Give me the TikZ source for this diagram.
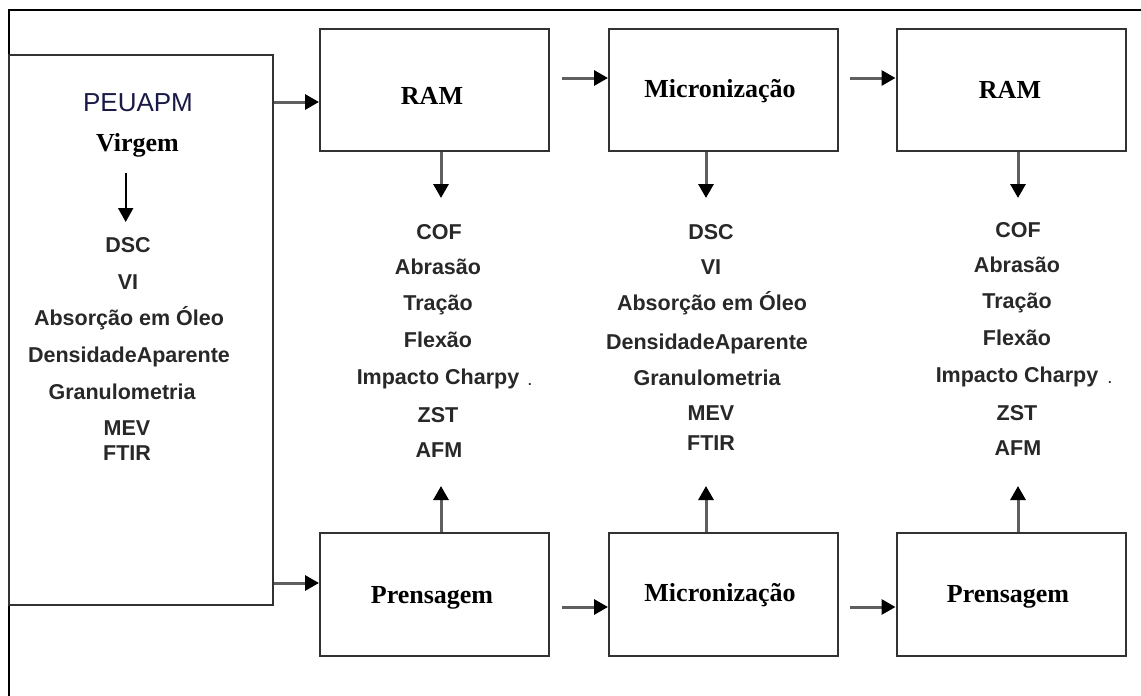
\documentclass[tikz,border=0pt]{standalone}
\usepackage{fontspec}
\setmainfont{Liberation Serif}
\newfontfamily\lsans{Liberation Sans}
\usetikzlibrary{arrows.meta,calc}
\definecolor{txt}{RGB}{40,40,40}
\definecolor{edgec}{RGB}{50,50,50}
\definecolor{shaft}{RGB}{95,95,95}
\definecolor{navy}{RGB}{25,25,70}
\begin{document}
\begin{tikzpicture}[x=1pt,y=-1pt,
  box/.style={draw=edgec,line width=2pt,minimum width=229pt,minimum height=122pt,inner sep=0pt},
  proc/.style={font=\fontsize{26}{26}\selectfont\bfseries,text=black,inner sep=0pt,text height=17pt,text depth=0pt},
  meas/.style={font=\lsans\fontsize{21.5}{21.5}\selectfont\bfseries,text=txt,inner sep=0pt,text height=15.4pt,text depth=0pt},
  arr/.style={draw=shaft,line width=3pt,-{Triangle[length=14pt,width=15pt,color=black]}}]
\path[fill=white] (0,0) rectangle (1141,696);
\useasboundingbox (0,0) rectangle (1141,696);
% outer frame
\draw[line width=1.5pt,black] (1141,10) -- (9,10) -- (9,696);
% source box
\node[draw=edgec,line width=2pt,minimum width=263.5pt,minimum height=550.5pt,inner sep=0pt] (src) at (140.75,329.75) {};
\node[font=\lsans\fontsize{26}{26}\selectfont,text=navy,inner sep=0pt,text height=18.6pt,text depth=0pt] (peu) at (138,102) {PEUAPM};
\node[proc] (virg) at (137.5,143) {Virgem};
\coordinate (vs) at (125.7,173);
\coordinate (ve) at (125.7,222);
\draw[arr,draw=black,line width=2pt] (vs) -- (ve);
\node[meas] (s1) at (128,245) {DSC};
\node[meas] (s2) at (128,282) {VI};
\node[meas] (s3) at (129,318) {Absorção em Óleo};
\node[meas] (s4) at (129,355) {DensidadeAparente};
\node[meas] (s5) at (122,392) {Granulometria};
\node[meas] (s6) at (127,428) {MEV};
\node[meas] (s7) at (127,453) {FTIR};
% top row boxes
\node[box] (ram1) at (434.5,90) {};
\node[box] (mic1) at (723.5,90) {};
\node[box] (ram2) at (1011,90) {};
\node[proc] (ram1t) at (432,96) {RAM};
\node[proc] (mic1t) at (720,89) {Micronização};
\node[proc] (ram2t) at (1010,90) {RAM};
% bottom row boxes
\node[box,minimum height=123pt] (pre1) at (434.5,594.5) {};
\node[box,minimum height=123pt] (mic2) at (723.5,594.5) {};
\node[box,minimum height=123pt] (pre2) at (1011,594.5) {};
\node[proc] (pre1t) at (432,595) {Prensagem};
\node[proc] (mic2t) at (720,593) {Micronização};
\node[proc] (pre2t) at (1008,594) {Prensagem};
% horizontal arrows
\coordinate (h1) at ($(ram1.west)+(0,12)$);
\draw[arr] (src.east |- h1) -- (h1);
\coordinate (h2) at ($(pre1.west)+(0,-11.5)$);
\draw[arr] (src.east |- h2) -- (h2);
\coordinate (h3) at ($(mic1.west)+(0,-12)$);
\draw[arr] ($(ram1.east)+(12,-12)$) -- (h3);
\coordinate (h4) at ($(ram2.west)+(0,-12)$);
\draw[arr] ($(mic1.east)+(11,-12)$) -- (h4);
\coordinate (h5) at ($(mic2.west)+(0,12.5)$);
\draw[arr] ($(pre1.east)+(12,12.5)$) -- (h5);
\coordinate (h6) at ($(pre2.west)+(0,12.5)$);
\draw[arr] ($(mic2.east)+(11,12.5)$) -- (h6);
% vertical arrows (down)
\coordinate (d1) at ($(ram1.south)+(6.5,46)$);
\draw[arr] ($(ram1.south)+(6.5,0)$) -- (d1);
\coordinate (d2) at ($(mic1.south)+(-17.5,46)$);
\draw[arr] ($(mic1.south)+(-17.5,0)$) -- (d2);
\coordinate (d3) at ($(ram2.south)+(7,46)$);
\draw[arr] ($(ram2.south)+(7,0)$) -- (d3);
% vertical arrows (up)
\coordinate (u1) at ($(pre1.north)+(6.5,-46)$);
\draw[arr] ($(pre1.north)+(6.5,0)$) -- (u1);
\coordinate (u2) at ($(mic2.north)+(-17.5,-46)$);
\draw[arr] ($(mic2.north)+(-17.5,0)$) -- (u2);
\coordinate (u3) at ($(pre2.north)+(7,-46)$);
\draw[arr] ($(pre2.north)+(7,0)$) -- (u3);
% column 1 (RAM)
\node[meas] (a1) at (439,232) {COF};
\node[meas] (a2) at (438,267) {Abrasão};
\node[meas] (a3) at (438,303) {Tração};
\node[meas] (a4) at (438,340) {Flexão};
\node[meas] (a5) at (438,377) {Impacto Charpy};
\node[font=\lsans\fontsize{13}{13}\selectfont\bfseries,text=txt,inner sep=0pt] (a5d) at (530,385) {.};
\node[meas] (a6) at (438,415) {ZST};
\node[meas] (a7) at (439,450) {AFM};
% column 2 (Micronizacao)
\node[meas] (b1) at (711,232) {DSC};
\node[meas] (b2) at (711,267) {VI};
\node[meas] (b3) at (712,303) {Absorção em Óleo};
\node[meas] (b4) at (707,342) {DensidadeAparente};
\node[meas] (b5) at (707,378) {Granulometria};
\node[meas] (b6) at (711,413) {MEV};
\node[meas] (b7) at (711,443) {FTIR};
% column 3 (RAM)
\node[meas] (c1) at (1018,230) {COF};
\node[meas] (c2) at (1017,265) {Abrasão};
\node[meas] (c3) at (1017,301) {Tração};
\node[meas] (c4) at (1017,338) {Flexão};
\node[meas] (c5) at (1017,375) {Impacto Charpy};
\node[font=\lsans\fontsize{13}{13}\selectfont\bfseries,text=txt,inner sep=0pt] (c5d) at (1110,383) {.};
\node[meas] (c6) at (1017,413) {ZST};
\node[meas] (c7) at (1018,448) {AFM};
\end{tikzpicture}
\end{document}
